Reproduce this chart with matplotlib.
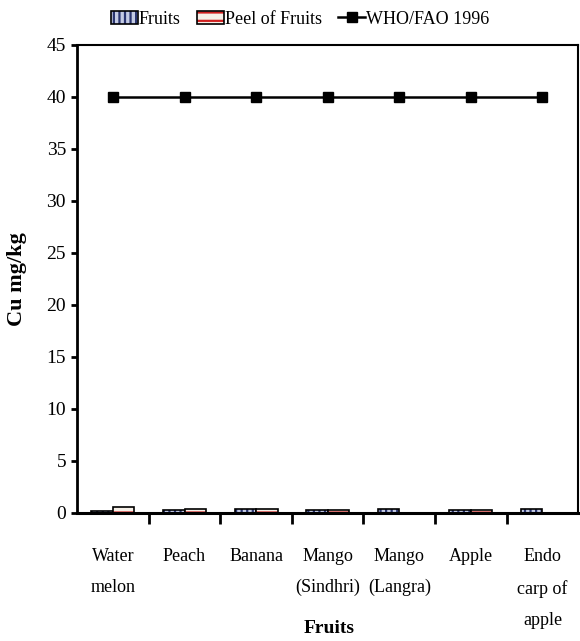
import numpy as np
import matplotlib.pyplot as plt

plt.rcParams['font.family'] = ['Liberation Serif', 'DejaVu Serif']
plt.rcParams['hatch.linewidth'] = 1.6

# Copper content per fruit sample (mg/kg)
fruits = ['Water\nmelon', 'Peach', 'Banana', 'Mango\n(Sindhri)', 'Mango\n(Langra)',
          'Apple', 'Endo\ncarp of\napple']
cu_fruit = [0.15, 0.3, 0.35, 0.3, 0.4, 0.3, 0.35]
cu_peel = [0.55, 0.4, 0.35, 0.3, 0.0, 0.3, 0.0]
who_limit = [40, 40, 40, 40, 40, 40, 40]

x = np.arange(len(fruits))
w = 0.3

fig = plt.figure(figsize=(5.8, 6.41), dpi=100)
ax = fig.add_axes([0.133, 0.2, 0.864, 0.73])

# fill + hatch first, black outline on top
b1 = ax.bar(x - w / 2, cu_fruit, w, color='#c4cbe4', edgecolor='#2a3570', hatch='|||', linewidth=0)
b1o = ax.bar(x - w / 2, cu_fruit, w, fill=False, edgecolor='black', linewidth=1.2)
b2 = ax.bar(x + w / 2, cu_peel, w, color='#f6f0e8', edgecolor='#d02020', hatch='--', linewidth=0)
b2o = ax.bar(x + w / 2, cu_peel, w, fill=False, edgecolor='black', linewidth=1.2)
ln, = ax.plot(x, who_limit, color='black', lw=1.8, marker='s', ms=7)

ax.set_xlim(-0.5, len(fruits) - 0.5)
ax.set_ylim(0, 45)
ax.set_yticks(range(0, 46, 5))
ax.set_xticks(x)
ax.set_xticklabels(fruits, fontsize=13, linespacing=2.1)
ax.set_xticks(np.arange(0.5, len(fruits) - 0.5, 1), minor=True)
ax.tick_params(axis='x', which='major', length=0, pad=25)
ax.tick_params(axis='x', which='minor', length=8, width=2, direction='out')
ax.tick_params(axis='y', length=4, width=2, labelsize=14, pad=4)

for s in ax.spines.values():
    s.set_linewidth(1.5)
ax.spines['left'].set_linewidth(2)
ax.spines['bottom'].set_linewidth(2.2)

ax.set_ylabel('Cu mg/kg', fontsize=16, fontweight='bold', labelpad=14)
fig.text(0.568, 0.02, 'Fruits', fontsize=14, fontweight='bold', ha='center', va='center')

ax.legend([(b1, b1o), (b2, b2o), ln], ['Fruits', 'Peel of Fruits', 'WHO/FAO 1996'],
          loc='center', bbox_to_anchor=(0.445, 1.055), ncol=3, frameon=False,
          fontsize=13, handlelength=1.5, handletextpad=0.05, columnspacing=0.9,
          borderaxespad=0.0)

fig.savefig('out.png', dpi=100)
